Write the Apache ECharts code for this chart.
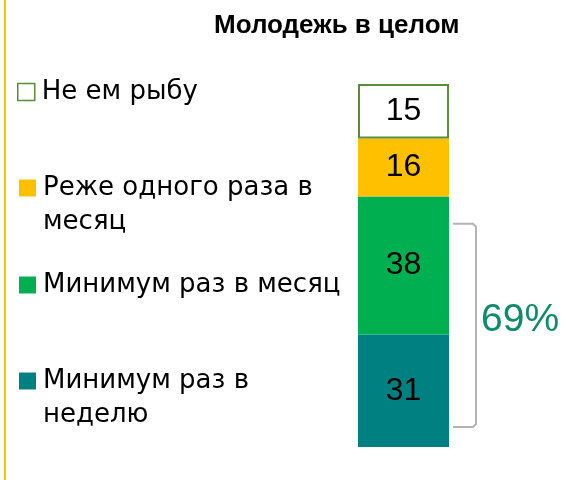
<!DOCTYPE html>
<html>
<head>
<meta charset="utf-8">
<script src="https://cdn.jsdelivr.net/npm/echarts@6/dist/echarts.min.js"></script>
<style>
  html, body { margin: 0; padding: 0; background: #fff; }
  #chart { width: 566px; height: 480px; }
</style>
</head>
<body>
<div id="chart"></div>
<script>
// данные
const categories = ['Молодежь в целом']
const seriesNames = ['Минимум раз в\nнеделю', 'Минимум раз в месяц', 'Реже одного раза в\nмесяц', 'Не ем рыбу']
const values = [31, 38, 16, 15]
const colors = ['#008080', '#00B050', '#FFC000', '#ffffff']
// скобка: от какого до какого значения, и что в ней суммируется
const bracketRange = [5.5, 61.5]
const bracketSeries = [0, 1]

const chart = echarts.init(document.getElementById('chart'))
const font = 'Liberation Sans, Arial, sans-serif'
const legendFont = 'DejaVu Sans, sans-serif'

// у каждого пункта легенды своя высота, поэтому легенд несколько
const legendCenters = [381, 285, 188, 92]
const lineH = 34

const legends = seriesNames.map((name, i) => {
  const twoLines = name.indexOf('\n') >= 0
  return {
    orient: 'vertical',
    left: i === 3 ? 17 : 19,
    // у двухстрочных сверху пустая строка, чтобы значок встал у первой строки
    top: legendCenters[i] - (twoLines ? lineH * 1.5 : lineH / 2),
    padding: 0,
    itemWidth: 17,
    itemHeight: 17,
    icon: 'rect',
    selectedMode: false,
    formatter: n => (n.indexOf('\n') >= 0 ? '\n' + n : n),
    data: [i === 3
      ? { name: name, itemStyle: { borderColor: '#5B8C3A', borderWidth: 1.5 } }
      : name],
    textStyle: {
      fontFamily: legendFont,
      fontSize: 26,
      lineHeight: lineH,
      color: '#000',
      padding: [0, 0, 0, 2]
    }
  }
})

chart.setOption({
  animation: false,
  title: {
    text: categories[0],
    left: 214,
    top: 10,
    padding: 0,
    textStyle: {
      fontFamily: font,
      fontSize: 26,
      fontWeight: 'bold',
      color: '#000',
      lineHeight: 32
    }
  },
  legend: legends,
  grid: { left: 358, top: 84, width: 91, height: 363 },
  xAxis: { type: 'category', data: categories, show: false },
  yAxis: { type: 'value', min: 0, max: 100, show: false },
  series: seriesNames.map((name, i) => ({
    name: name,
    type: 'bar',
    stack: 'total',
    barWidth: '100%',
    data: [values[i]],
    itemStyle: i === 3
      ? { color: colors[i], borderColor: '#5B8C3A', borderWidth: 2 }
      : { color: colors[i] },
    label: {
      show: true,
      position: 'inside',
      color: '#000',
      fontFamily: font,
      fontSize: 32
    }
  }))
})

// скобка и подпись с суммой
const yTop = chart.convertToPixel({ yAxisIndex: 0 }, bracketRange[1])
const yBot = chart.convertToPixel({ yAxisIndex: 0 }, bracketRange[0])
const xBar = 449
const x0 = xBar + 4
const x1 = xBar + 27
const sum = bracketSeries.reduce((s, i) => s + values[i], 0)

chart.setOption({
  graphic: [
    {
      type: 'rect',
      shape: { x: 4, y: 0, width: 2, height: 480 },
      style: { fill: '#FFC000' }
    },
    {
      type: 'polyline',
      shape: {
        points: [[x0, yTop], [x1 - 3, yTop], [x1, yTop + 3], [x1, yBot - 3], [x1 - 3, yBot], [x0, yBot]]
      },
      style: { fill: null, stroke: '#b4b4b4', lineWidth: 2 }
    },
    {
      type: 'text',
      x: x1 + 5,
      y: (yTop + yBot) / 2 - 5,
      style: {
        text: sum + '%',
        fontFamily: font,
        fontSize: 39,
        fill: '#0F8B6B',
        verticalAlign: 'middle'
      }
    }
  ]
})
</script>
</body>
</html>
